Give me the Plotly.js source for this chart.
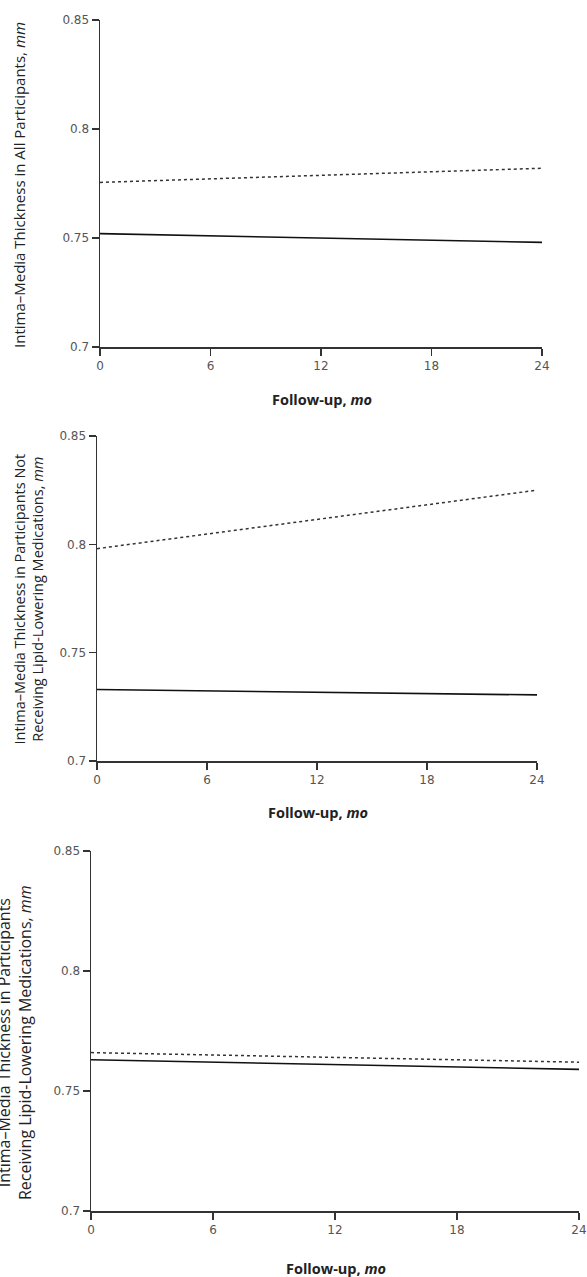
<!DOCTYPE html>
<html>
<head>
<meta charset="utf-8">
<script src="https://cdn.plot.ly/plotly-3.0.1.min.js"></script>
<style>html,body{margin:0;padding:0;background:#fff;}#chart{width:587px;height:1277px;}</style>
</head>
<body>
<div id="chart"></div>
<script>
// Data
const months = [0, 24];
const xTicks = [0, 6, 12, 18, 24];
const xTickLabels = ["0", "6", "12", "18", "24"];
const yTicks = [0.7, 0.75, 0.8, 0.85];
const yTickLabels = ["0.7", "0.75", "0.8", "0.85"];

const allSolid = [0.752, 0.748];
const allDotted = [0.7755, 0.782];
const notLipidSolid = [0.733, 0.7305];
const notLipidDotted = [0.798, 0.825];
const lipidSolid = [0.763, 0.759];
const lipidDotted = [0.766, 0.762];

const yTitles = [
  "Intima–Media Thickness in All Participants, <i>mm</i>",
  "Intima–Media Thickness in Participants Not<br>Receiving Lipid-Lowering Medications, <i>mm</i>",
  "Intima–Media Thickness in Participants<br>Receiving Lipid-Lowering Medications, <i>mm</i>"
];
const xTitle = "<b>Follow-up, <i>mo</i></b>";

const W = 587, H = 1277;
const TICKFONT = "DejaVu Sans, Verdana, sans-serif";
const TITLEFONT = "Open Sans, Noto Sans, sans-serif";

// panel geometry in pixels
const panels = [
  {l: 100, r: 542, t: 20, b: 347, solid: allSolid, dotted: allDotted, ytx: 19, yty: 185, yts: 15, xtx: 322, xty: 400},
  {l: 97, r: 537, t: 436, b: 761, solid: notLipidSolid, dotted: notLipidDotted, ytx: 28.5, yty: 599, yts: 14.5, xtx: 318, xty: 812},
  {l: 91, r: 579, t: 851, b: 1211, solid: lipidSolid, dotted: lipidDotted, ytx: 14, yty: 1043, yts: 16, xtx: 336, xty: 1268}
];

const traces = [];
const layout = {
  width: W, height: H,
  margin: {l: 0, r: 0, t: 0, b: 0},
  paper_bgcolor: "#fff", plot_bgcolor: "#fff",
  showlegend: false,
  font: {family: TICKFONT, size: 12, color: "#444"},
  annotations: []
};

panels.forEach((p, i) => {
  const n = i === 0 ? "" : String(i + 1);
  const xa = "x" + n, ya = "y" + n;
  traces.push({x: months, y: p.dotted, xaxis: xa, yaxis: ya, mode: "lines",
    line: {color: "#333", width: 1.5, dash: "dot"}, hoverinfo: "skip"});
  traces.push({x: months, y: p.solid, xaxis: xa, yaxis: ya, mode: "lines",
    line: {color: "#111", width: 1.6}, hoverinfo: "skip"});
  const axCommon = {
    showline: true, linecolor: "#333", linewidth: 1.5,
    ticks: "outside", ticklen: 7, tickwidth: 1.3, tickcolor: "#333",
    showgrid: false, zeroline: false, automargin: false,
    tickfont: {family: TICKFONT, size: 12, color: "#555"}
  };
  layout["xaxis" + n] = Object.assign({}, axCommon, {
    domain: [p.l / W, p.r / W], range: [0, 24], anchor: ya,
    tickmode: "array", tickvals: xTicks, ticktext: xTickLabels
  });
  layout["yaxis" + n] = Object.assign({}, axCommon, {
    domain: [1 - p.b / H, 1 - p.t / H], range: [0.7, 0.85], anchor: xa,
    tickmode: "array", tickvals: yTicks, ticktext: yTickLabels
  });
  layout.annotations.push({
    text: yTitles[i], xref: "paper", yref: "paper",
    x: p.ytx / W, y: 1 - p.yty / H, xanchor: "center", yanchor: "middle",
    textangle: -90, showarrow: false,
    font: {family: TITLEFONT, size: p.yts, color: "#222"}
  });
  layout.annotations.push({
    text: xTitle, xref: "paper", yref: "paper",
    x: p.xtx / W, y: 1 - p.xty / H, xanchor: "center", yanchor: "middle",
    showarrow: false, font: {family: TITLEFONT, size: 14.5, color: "#222"}
  });
});

Plotly.newPlot("chart", traces, layout, {displayModeBar: false, staticPlot: true});
</script>
</body>
</html>
